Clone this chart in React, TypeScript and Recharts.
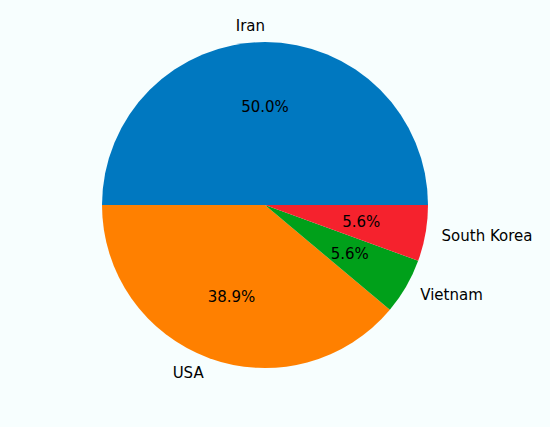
import React from "react";
import { PieChart, Pie, Cell } from "recharts";

document.body.style.margin = "0";

const countries = ["Iran", "USA", "Vietnam", "South Korea"];
const counts = [9, 7, 1, 1];
const colors = ["#0078c0", "#ff8000", "#00a01a", "#f5222d"];

const data = countries.map((name, i) => ({ name, value: counts[i] }));

const RADIAN = Math.PI / 180;
const FONT = "'DejaVu Sans', sans-serif";

// matplotlib style: name at 1.1r, percentage at 0.6r
const renderLabel = (props: any) => {
  const { cx, cy, midAngle, outerRadius, percent, name } = props;
  const cos = Math.cos(-midAngle * RADIAN);
  const sin = Math.sin(-midAngle * RADIAN);
  const lx = cx + outerRadius * 1.1 * cos;
  const ly = cy + outerRadius * 1.1 * sin;
  const px = cx + outerRadius * 0.6 * cos;
  const py = cy + outerRadius * 0.6 * sin;
  return (
    <g>
      <text
        x={lx}
        y={ly}
        textAnchor={cos > 1e-6 ? "start" : "end"}
        dominantBaseline="central"
        fontFamily={FONT}
        fontSize={15}
        fill="#000"
      >
        {name}
      </text>
      <text
        x={px}
        y={py}
        textAnchor="middle"
        dominantBaseline="central"
        fontFamily={FONT}
        fontSize={15}
        fill="#000"
      >
        {`${(percent * 100).toFixed(1)}%`}
      </text>
    </g>
  );
};

export default function App() {
  return (
    <div style={{ width: 550, height: 427, background: "#f7fefe" }}>
      <PieChart width={550} height={427} margin={{ top: 0, right: 0, bottom: 0, left: 0 }}>
        <Pie
          data={data}
          dataKey="value"
          nameKey="name"
          cx={265}
          cy={205}
          outerRadius={163}
          startAngle={0}
          endAngle={360}
          stroke="none"
          labelLine={false}
          label={renderLabel}
          isAnimationActive={false}
        >
          {data.map((d, i) => (
            <Cell key={d.name} fill={colors[i]} />
          ))}
        </Pie>
      </PieChart>
    </div>
  );
}
